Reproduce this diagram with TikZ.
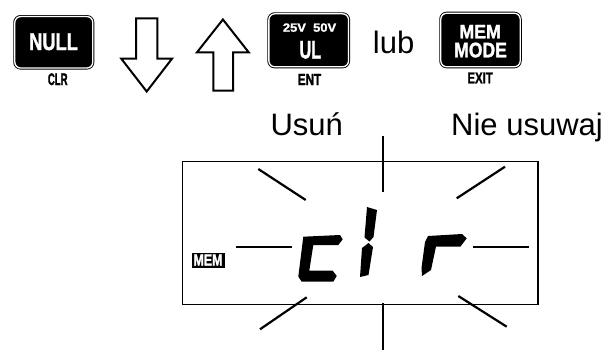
\documentclass[tikz,border=0pt]{standalone}
\usepackage{fontspec}
\setmainfont{Liberation Sans}
\newfontfamily\keyfont[FakeBold=1.6]{Liberation Sans Bold}
\usepackage{graphicx}
\usetikzlibrary{positioning}
\newcommand{\keylbl}[3]{\resizebox{#1pt}{#2pt}{\keyfont #3}}

\begin{document}
\begin{tikzpicture}[
  x=1pt, y=-1pt,
  keybtn/.style  = {draw=black, line width=0.9pt, double=white,
                    double distance=1.3pt, fill=black, rounded corners=6pt,
                    inner sep=0pt},
  keytxt/.style  = {anchor=base west, inner sep=0pt, text=white},
  captxt/.style  = {anchor=base west, inner sep=0pt, text=black},
  word/.style    = {anchor=base, inner sep=0pt, font=\fontsize{31}{34}\selectfont},
  hollow/.style  = {draw=black, line width=2pt, line join=miter},
  ray/.style     = {line width=2.2pt},
  seg/.style     = {fill=black}
]
\useasboundingbox[fill=white] (0,0) rectangle (608,354);

\node[keybtn, minimum width=78pt, minimum height=51.5pt] (nullkey) at (53.8,42.3) {};
\node[keytxt] (nulltxt) at (29,50) {\keylbl{48.7}{16.7}{NULL}};
\node[captxt] (clrtxt) at (47.7,85) {\keylbl{19.7}{11.7}{CLR}};

\draw[hollow] (136,18.3) -- (157.3,18.3) -- (157.3,58.7) -- (172,58.7)
  -- (146.7,91.5) -- (121.3,58.7) -- (136,58.7) -- cycle;
\draw[hollow] (213.3,90.7) -- (233,90.7) -- (233,52.3) -- (248.7,52.3)
  -- (222.9,19.5) -- (197,52.3) -- (213.3,52.3) -- cycle;

\node[keybtn, minimum width=79.7pt, minimum height=53pt] (ulkey) at (308.7,40.3) {};
\node[keytxt] (volttxt) at (282.7,31.7) {\keylbl{53.3}{8.3}{25V\ \ 50V}};
\node[keytxt] (ultxt) at (299.3,58.3) {\keylbl{21.7}{17.3}{UL}};
\node[captxt] (enttxt) at (297.7,85) {\keylbl{23.3}{11}{ENT}};

\node[word] (lub) at (393.6,53) {lub};

\node[keybtn, minimum width=79.4pt, minimum height=53.6pt] (memkey) at (480.5,40) {};
\node[keytxt] (memtxt) at (459.3,38.3) {\keylbl{41.3}{13.3}{MEM}};
\node[keytxt] (modetxt) at (454,57.3) {\keylbl{52.7}{14.7}{MODE}};
\node[captxt] (exittxt) at (467.3,83.3) {\keylbl{25.3}{10.7}{EXIT}};

\node[word] (usun) at (306.7,135) {Usuń};
\node[word] (nieusuwaj) at (527,135) {Nie usuwaj};

\node[draw, line width=1.3pt, minimum width=355.3pt, minimum height=143pt,
      inner sep=0pt] (lcd) at (360.35,233.2) {};
\node[fill=black, inner sep=0pt, minimum width=33pt, minimum height=15pt]
      (membadge) at (208,260) {\textcolor{white}{\keylbl{29}{11}{MEM}}};

\foreach \a/\b in {{382.7,136}/{382.7,191.7}, {382.7,303}/{382.7,350},
                   {258.3,169}/{305.7,200}, {456.7,198.3}/{505,166.7},
                   {236,246.7}/{291.7,246.7}, {473.3,246.7}/{529,246.7},
                   {306.7,297.3}/{260,329.3}, {458.3,296}/{506.7,326.7}}{
  \draw[ray] (\a) -- (\b);
}

\fill[seg] (303.3,236.7) -- (340,235) -- (342.7,239.3) -- (338.3,245)
  -- (313.3,245) -- (309.3,270.7) -- (332.7,270.7) -- (336.7,276)
  -- (333.3,281.7) -- (301.7,281.7) -- (298.3,276.7) -- cycle;
\fill[seg] (367,207) -- (377,210) -- (373.5,237) -- (369.5,241.5)
  -- (364.5,237.5) -- cycle;
\fill[seg] (368.5,243) -- (373,247) -- (368.5,275) -- (360,277)
  -- (362,248) -- cycle;
\fill[seg] (428,236) -- (462,234) -- (466.7,238.3) -- (460.5,246.5)
  -- (436,246.5) -- (431,270) -- (422,276) -- (421.5,268) -- (425,242) -- cycle;
\end{tikzpicture}
\end{document}
